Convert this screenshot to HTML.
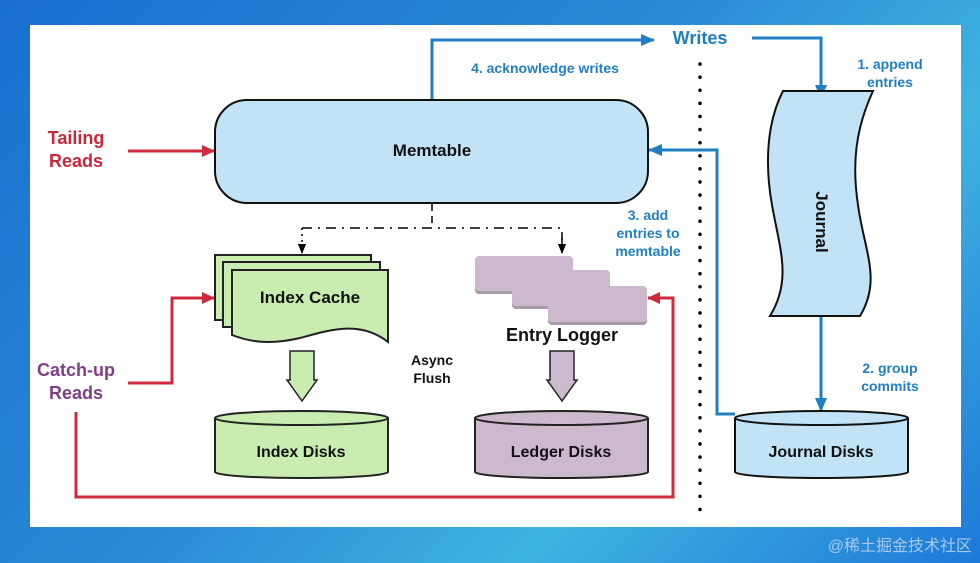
<!DOCTYPE html>
<html><head><meta charset="utf-8"><style>
html,body{margin:0;padding:0}
body{width:980px;height:563px;overflow:hidden;background:linear-gradient(135deg,#1a6fd0 0%,#2a8ad6 45%,#3fb3e0 70%,#1d79d8 100%);position:relative;font-family:"Liberation Sans",sans-serif}
svg{position:absolute;left:0;top:0}
text{font-family:"Liberation Sans","Noto Sans CJK SC",sans-serif;font-weight:bold}
</style></head><body>
<svg width="980" height="563" viewBox="0 0 980 563">
<defs>
<marker id="ab" markerWidth="14" markerHeight="12" refX="13" refY="6" orient="auto" markerUnits="userSpaceOnUse" viewBox="0 0 14 12"><path d="M0,0 L14,6 L0,12 z" fill="#1f7fc1"/></marker>
<marker id="ar" markerWidth="13" markerHeight="12" refX="12" refY="6" orient="auto" markerUnits="userSpaceOnUse" viewBox="0 0 13 12"><path d="M0,0 L13,6 L0,12 z" fill="#d0283c"/></marker>
<marker id="ak" markerWidth="10" markerHeight="12" refX="11" refY="5" orient="auto" markerUnits="userSpaceOnUse" viewBox="0 0 12 10"><path d="M0,0 L12,5 L0,10 z" fill="#000"/></marker>
</defs>
<rect x="30" y="25" width="931" height="502" fill="#fff"/>

<path d="M432,100 V40 H654" fill="none" stroke="#1f7fc1" stroke-width="3" marker-end="url(#ab)"/>
<path d="M752,38 H821 V98" fill="none" stroke="#1f7fc1" stroke-width="3" marker-end="url(#ab)"/>
<path d="M821,316 V411" fill="none" stroke="#1f7fc1" stroke-width="3" marker-end="url(#ab)"/>
<path d="M735,414 H717 V150 H649" fill="none" stroke="#1f7fc1" stroke-width="3" marker-end="url(#ab)"/>
<text x="700" y="44" font-size="18" fill="#1f7fc1" text-anchor="middle">Writes</text>
<text x="545" y="73" font-size="14" fill="#1f7fc1" text-anchor="middle">4. acknowledge writes</text>
<text x="890" y="69" font-size="14" fill="#1f7fc1" text-anchor="middle">1. append</text>
<text x="890" y="87" font-size="14" fill="#1f7fc1" text-anchor="middle">entries</text>
<text x="890" y="373" font-size="14" fill="#1f7fc1" text-anchor="middle">2. group</text>
<text x="890" y="391" font-size="14" fill="#1f7fc1" text-anchor="middle">commits</text>
<text x="648" y="220" font-size="14" fill="#1f7fc1" text-anchor="middle">3. add</text>
<text x="648" y="238" font-size="14" fill="#1f7fc1" text-anchor="middle">entries to</text>
<text x="648" y="256" font-size="14" fill="#1f7fc1" text-anchor="middle">memtable</text>

<line x1="700" y1="64" x2="700" y2="518" stroke="#000" stroke-width="3.5" stroke-dasharray="0.1 13" stroke-linecap="round"/>

<rect x="215" y="100" width="433" height="103" rx="32" fill="#c2e2f5" stroke="#111" stroke-width="2"/>
<text x="432" y="156" font-size="17" fill="#111" text-anchor="middle">Memtable</text>

<path d="M432,204 V228" fill="none" stroke="#000" stroke-width="1.5" stroke-dasharray="7 5"/>
<path d="M302,228 H562 V240" fill="none" stroke="#000" stroke-width="1.5" stroke-dasharray="10 6 2 6"/>
<path d="M302,228 V253" fill="none" stroke="#000" stroke-width="1.5" stroke-dasharray="2 4" marker-end="url(#ak)"/>
<path d="M562,238 V253" fill="none" stroke="#000" stroke-width="1.5" marker-end="url(#ak)"/>

<path d="M783,91 H873 C855,130 852,165 858,205 C864,250 882,280 860,316 H770 C792,280 780,250 772,205 C764,160 768,120 783,91 Z" fill="#c2e2f5" stroke="#111" stroke-width="2"/>
<text transform="translate(816,222) rotate(90)" font-size="17" fill="#111" text-anchor="middle">Journal</text>

<path d="M735,418 V472 A86.5,6 0 0 0 908,472 V418" fill="#c2e2f5" stroke="#111" stroke-width="2"/>
<ellipse cx="821.5" cy="418" rx="86.5" ry="7" fill="#c2e2f5" stroke="#111" stroke-width="2"/>
<text x="821" y="457" font-size="16" fill="#111" text-anchor="middle">Journal Disks</text>

<rect x="215" y="255" width="156" height="65" fill="#c9edb0" stroke="#222" stroke-width="2"/>
<rect x="223" y="262" width="157" height="65" fill="#c9edb0" stroke="#222" stroke-width="2"/>
<path d="M232,270 H388 V342 C360,320 330,330 300,338 C270,345 250,342 232,335 Z" fill="#c9edb0" stroke="#222" stroke-width="2"/>
<text x="310" y="303" font-size="17" fill="#111" text-anchor="middle">Index Cache</text>
<path d="M290,351 H314 V380 H317 L302,401 L287,380 H290 Z" fill="#c9edb0" stroke="#222" stroke-width="1.5"/>
<path d="M215,418 V472 A86.5,6 0 0 0 388,472 V418" fill="#c9edb0" stroke="#222" stroke-width="2"/>
<ellipse cx="301.5" cy="418" rx="86.5" ry="7" fill="#c9edb0" stroke="#222" stroke-width="2"/>
<text x="301" y="457" font-size="16" fill="#111" text-anchor="middle">Index Disks</text>

<text x="432" y="365" font-size="14" fill="#111" text-anchor="middle">Async</text>
<text x="432" y="383" font-size="14" fill="#111" text-anchor="middle">Flush</text>

<rect x="475" y="258" width="98" height="36" rx="4" fill="#a99aa9"/>
<rect x="475" y="256" width="98" height="35" rx="4" fill="#cdb9cd"/>
<rect x="512" y="272" width="98" height="37" rx="4" fill="#a99aa9"/>
<rect x="512" y="270" width="98" height="36" rx="4" fill="#cdb9cd"/>
<rect x="548" y="288" width="99" height="37" rx="4" fill="#a99aa9"/>
<rect x="548" y="286" width="99" height="36" rx="4" fill="#cdb9cd"/>
<text x="562" y="341" font-size="18" fill="#111" text-anchor="middle">Entry Logger</text>
<path d="M550,351 H574 V380 H577 L562,401 L547,380 H550 Z" fill="#cdb9cd" stroke="#222" stroke-width="1.5"/>
<path d="M475,418 V472 A86.5,6 0 0 0 648,472 V418" fill="#cdb9cd" stroke="#222" stroke-width="2"/>
<ellipse cx="561.5" cy="418" rx="86.5" ry="7" fill="#cdb9cd" stroke="#222" stroke-width="2"/>
<text x="561" y="457" font-size="16" fill="#111" text-anchor="middle">Ledger Disks</text>

<text x="76" y="144" font-size="18" fill="#c8283c" text-anchor="middle">Tailing</text>
<text x="76" y="167" font-size="18" fill="#c8283c" text-anchor="middle">Reads</text>
<path d="M128,151 H214" fill="none" stroke="#d0283c" stroke-width="3" marker-end="url(#ar)"/>
<text x="76" y="376" font-size="18" fill="#7e3f86" text-anchor="middle">Catch-up</text>
<text x="76" y="399" font-size="18" fill="#7e3f86" text-anchor="middle">Reads</text>
<path d="M128,383 H172 V298 H214" fill="none" stroke="#d0283c" stroke-width="3" marker-end="url(#ar)"/>
<path d="M76,412 V497 H673 V298 H648" fill="none" stroke="#d0283c" stroke-width="3" marker-end="url(#ar)"/>

<text x="972" y="551" font-size="16" fill="#a8c8ea" text-anchor="end" style="font-weight:normal">@稀土掘金技术社区</text>
</svg>
</body></html>
